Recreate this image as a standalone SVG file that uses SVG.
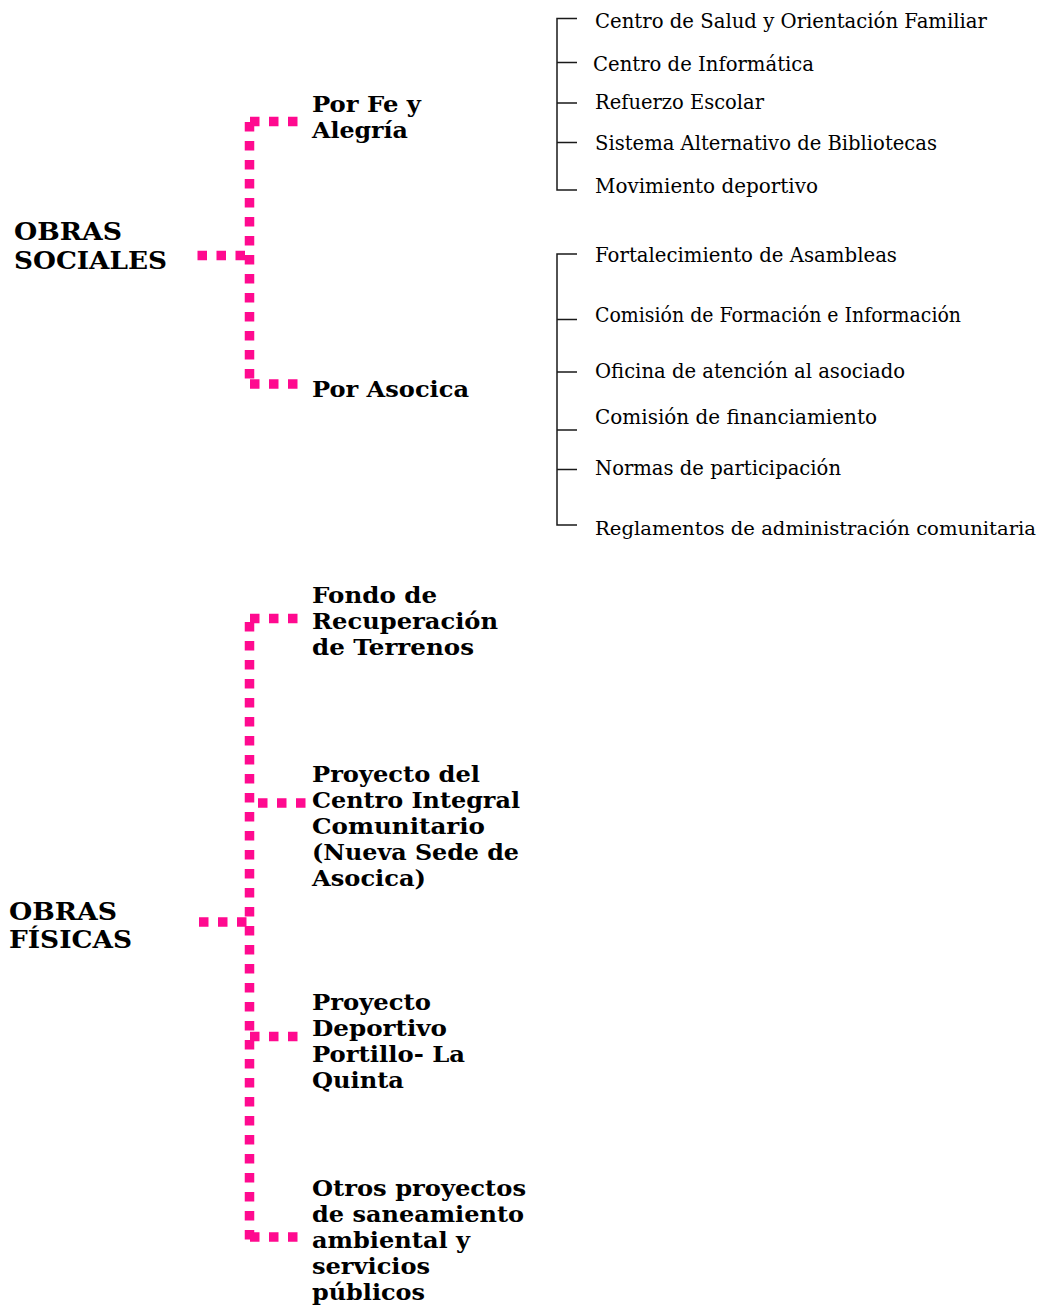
<svg xmlns="http://www.w3.org/2000/svg" width="1044" height="1306" viewBox="0 0 1044 1306">
<style>
.b{font-family:"DejaVu Serif","Liberation Serif",serif;font-weight:bold;font-size:23px;fill:#000}
.h{font-family:"DejaVu Serif","Liberation Serif",serif;font-weight:bold;font-size:25px;fill:#000}
.r{font-family:"DejaVu Serif","Liberation Serif",serif;font-size:21px;fill:#000}
.d{fill:none;stroke:#FF0A8F;stroke-width:9.5;stroke-dasharray:9.5 9.5}
.t{fill:none;stroke:#1a1a1a;stroke-width:1.5}
</style>
<rect width="1044" height="1306" fill="#fff"/>
<g id="connectors">
<path class="d" d="M197.5,255.5 H246"/>
<path class="d" d="M249.5,122 V380"/>
<path class="d" d="M250,121.5 H298"/>
<path class="d" d="M250,384 H298"/>
<path class="d" d="M199,922 H247"/>
<path class="d" d="M249.5,622 V1240"/>
<path class="d" d="M250,618.5 H300"/>
<path class="d" d="M258,803 H307"/>
<path class="d" d="M250,1036.5 H298"/>
<path class="d" d="M250,1237 H298"/>
<path class="t" d="M577,18.5 H557 V190 H577 M557,62.5 H577 M557,103 H577 M557,142.5 H577"/>
<path class="t" d="M577,254 H557 V525 H577 M557,319.5 H577 M557,372 H577 M557,430 H577 M557,469.5 H577"/>
</g>
<g id="obras-sociales">
<text class="h" x="14" y="240" textLength="108" lengthAdjust="spacingAndGlyphs">OBRAS</text>
<text class="h" x="14" y="269" textLength="153" lengthAdjust="spacingAndGlyphs">SOCIALES</text>
</g>
<g id="por-fe-y-alegria">
<text class="b" x="312" y="112" textLength="109" lengthAdjust="spacingAndGlyphs">Por Fe y</text>
<text class="b" x="312" y="138" textLength="96" lengthAdjust="spacingAndGlyphs">Alegría</text>
</g>
<g id="por-asocica">
<text class="b" x="312" y="397" textLength="157" lengthAdjust="spacingAndGlyphs">Por Asocica</text>
</g>
<g id="list-fe-alegria">
<text class="r" x="595" y="28" textLength="392" lengthAdjust="spacingAndGlyphs">Centro de Salud y Orientación Familiar</text>
<text class="r" x="593" y="71" textLength="221" lengthAdjust="spacingAndGlyphs">Centro de Informática</text>
<text class="r" x="595" y="109" textLength="169" lengthAdjust="spacingAndGlyphs">Refuerzo Escolar</text>
<text class="r" x="595" y="150" textLength="342" lengthAdjust="spacingAndGlyphs">Sistema Alternativo de Bibliotecas</text>
<text class="r" x="595" y="193" textLength="223" lengthAdjust="spacingAndGlyphs">Movimiento deportivo</text>
</g>
<g id="list-asocica">
<text class="r" x="595" y="262" textLength="302" lengthAdjust="spacingAndGlyphs">Fortalecimiento de Asambleas</text>
<text class="r" x="595" y="322" textLength="366" lengthAdjust="spacingAndGlyphs">Comisión de Formación e Información</text>
<text class="r" x="595" y="378" textLength="310" lengthAdjust="spacingAndGlyphs">Oficina de atención al asociado</text>
<text class="r" x="595" y="424" textLength="282" lengthAdjust="spacingAndGlyphs">Comisión de financiamiento</text>
<text class="r" x="595" y="475" textLength="246" lengthAdjust="spacingAndGlyphs">Normas de participación</text>
<text class="r" x="595" y="535" style="font-size:19px" textLength="441" lengthAdjust="spacingAndGlyphs">Reglamentos de administración comunitaria</text>
</g>
<g id="obras-fisicas">
<text class="h" x="9" y="920" textLength="108" lengthAdjust="spacingAndGlyphs">OBRAS</text>
<text class="h" x="9" y="948" textLength="123" lengthAdjust="spacingAndGlyphs">FÍSICAS</text>
</g>
<g id="fondo-recuperacion">
<text class="b" x="312" y="603" textLength="125" lengthAdjust="spacingAndGlyphs">Fondo de</text>
<text class="b" x="312" y="629" textLength="186" lengthAdjust="spacingAndGlyphs">Recuperación</text>
<text class="b" x="312" y="655" textLength="162" lengthAdjust="spacingAndGlyphs">de Terrenos</text>
</g>
<g id="centro-integral">
<text class="b" x="312" y="782" textLength="168" lengthAdjust="spacingAndGlyphs">Proyecto del</text>
<text class="b" x="312" y="808" textLength="208" lengthAdjust="spacingAndGlyphs">Centro Integral</text>
<text class="b" x="312" y="834" textLength="173" lengthAdjust="spacingAndGlyphs">Comunitario</text>
<text class="b" x="312" y="860" textLength="207" lengthAdjust="spacingAndGlyphs">(Nueva Sede de</text>
<text class="b" x="312" y="886" textLength="114" lengthAdjust="spacingAndGlyphs">Asocica)</text>
</g>
<g id="proyecto-deportivo">
<text class="b" x="312" y="1010" textLength="119" lengthAdjust="spacingAndGlyphs">Proyecto</text>
<text class="b" x="312" y="1036" textLength="135" lengthAdjust="spacingAndGlyphs">Deportivo</text>
<text class="b" x="312" y="1062" textLength="153" lengthAdjust="spacingAndGlyphs">Portillo- La</text>
<text class="b" x="312" y="1088" textLength="92" lengthAdjust="spacingAndGlyphs">Quinta</text>
</g>
<g id="otros-proyectos">
<text class="b" x="312" y="1196" textLength="214" lengthAdjust="spacingAndGlyphs">Otros proyectos</text>
<text class="b" x="312" y="1222" textLength="212" lengthAdjust="spacingAndGlyphs">de saneamiento</text>
<text class="b" x="312" y="1248" textLength="158" lengthAdjust="spacingAndGlyphs">ambiental y</text>
<text class="b" x="312" y="1274" textLength="118" lengthAdjust="spacingAndGlyphs">servicios</text>
<text class="b" x="312" y="1300" textLength="113" lengthAdjust="spacingAndGlyphs">públicos</text>
</g>
</svg>
